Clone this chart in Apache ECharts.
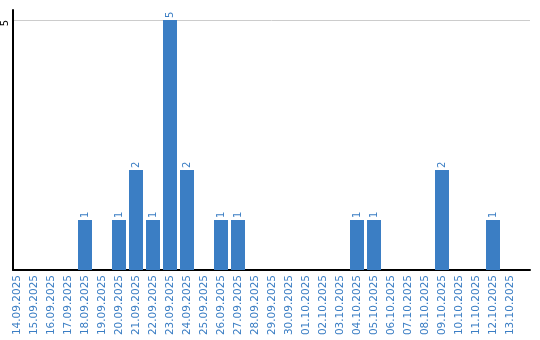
<!DOCTYPE html>
<html><head><meta charset="utf-8">
<script src="https://cdn.jsdelivr.net/npm/echarts@6/dist/echarts.min.js"></script>
<style>html,body{margin:0;padding:0;background:#fff}#c{width:540px;height:340px}</style>
</head><body><div id="c"></div>
<script>
const categories = ['14.09.2025','15.09.2025','16.09.2025','17.09.2025','18.09.2025','19.09.2025','20.09.2025','21.09.2025','22.09.2025','23.09.2025','24.09.2025','25.09.2025','26.09.2025','27.09.2025','28.09.2025','29.09.2025','30.09.2025','01.10.2025','02.10.2025','03.10.2025','04.10.2025','05.10.2025','06.10.2025','07.10.2025','08.10.2025','09.10.2025','10.10.2025','11.10.2025','12.10.2025','13.10.2025'];
const values = [0,0,0,0,1,0,1,2,1,5,2,0,1,1,0,0,0,0,0,0,1,1,0,0,0,2,0,0,1,0];
const yTicks = [5];

const BLUE = '#3b7ec4';
const chart = echarts.init(document.getElementById('c'), null, {renderer:'canvas'});
chart.setOption({
  animation:false,
  textStyle:{fontFamily:'DejaVu Sans'},
  grid:[
    {left:10, right:10, top:10, bottom:70},
    {left:8.5, right:21.5, top:10, bottom:70}
  ],
  xAxis:[
    {gridIndex:0, type:'value', min:0, max:1, axisLine:{show:true, onZero:false, lineStyle:{color:'#000', width:2}},
     axisTick:{show:false}, axisLabel:{show:false}, splitLine:{show:false}},
    {gridIndex:1, type:'category', data:categories, axisLine:{show:false}, axisTick:{show:false},
     axisLabel:{rotate:90, interval:0, color:BLUE, fontSize:10.5, margin:5, fontFamily:'DejaVu Sans'}}
  ],
  yAxis:[
    {gridIndex:0, type:'value', min:0, max:5.2, interval:5,
     axisLine:{show:true, lineStyle:{color:'#000', width:2}}, axisTick:{show:false},
     axisLabel:{rotate:90, margin:3, align:'right', verticalAlign:'bottom', color:'#000', fontSize:10,
       formatter:v=>yTicks.includes(v)?String(v):''},
     splitLine:{show:true, showMaxLine:false, showMinLine:false, lineStyle:{color:'#cccccc', width:1}}},
    {gridIndex:1, type:'value', min:0, max:5.2, show:false, splitLine:{show:false}}
  ],
  series:[{
    type:'bar', xAxisIndex:1, yAxisIndex:1, data:values, barWidth:14,
    itemStyle:{color:BLUE},
    label:{show:true, position:'top', rotate:90, align:'left', verticalAlign:'middle', distance:2,
      color:BLUE, fontSize:10, formatter:p=>p.value? String(p.value):''}
  }]
});
</script></body></html>
